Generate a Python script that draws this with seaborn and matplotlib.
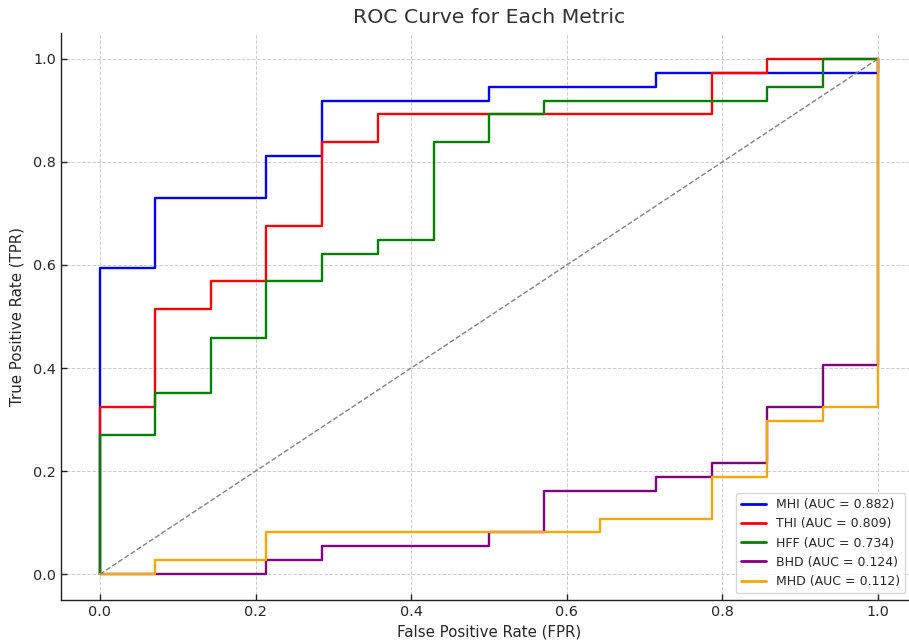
import numpy as np
import pandas as pd
import matplotlib
matplotlib.use("Agg")
import matplotlib.pyplot as plt
import seaborn as sns

metrics = ["MHI", "THI", "HFF", "BHD", "MHD"]
auc_values = [0.882, 0.809, 0.734, 0.124, 0.112]
colors = ["blue", "red", "green", "purple", "orange"]

mhi_fpr = [0, 0, 0.071, 0.071, 0.214, 0.214, 0.286, 0.286, 0.5, 0.5, 0.714, 0.714, 1.0, 1.0]
mhi_tpr = [0, 0.595, 0.595, 0.730, 0.730, 0.811, 0.811, 0.919, 0.919, 0.946, 0.946, 0.973, 0.973, 1.0]

thi_fpr = [0, 0, 0.071, 0.071, 0.143, 0.143, 0.214, 0.214, 0.286, 0.286, 0.357, 0.357, 0.786, 0.786, 0.857, 0.857, 1.0]
thi_tpr = [0, 0.324, 0.324, 0.514, 0.514, 0.568, 0.568, 0.676, 0.676, 0.838, 0.838, 0.892, 0.892, 0.973, 0.973, 1.0, 1.0]

hff_fpr = [0, 0, 0.071, 0.071, 0.143, 0.143, 0.214, 0.214, 0.286, 0.286, 0.357, 0.357, 0.429, 0.429, 0.5, 0.5, 0.571, 0.571, 0.857, 0.857, 0.929, 0.929, 1.0]
hff_tpr = [0, 0.270, 0.270, 0.351, 0.351, 0.459, 0.459, 0.568, 0.568, 0.622, 0.622, 0.649, 0.649, 0.838, 0.838, 0.892, 0.892, 0.919, 0.919, 0.946, 0.946, 1.0, 1.0]

bhd_fpr = [0, 0.214, 0.214, 0.286, 0.286, 0.5, 0.5, 0.571, 0.571, 0.714, 0.714, 0.786, 0.786, 0.857, 0.857, 0.929, 0.929, 1.0, 1.0]
bhd_tpr = [0, 0, 0.027, 0.027, 0.054, 0.054, 0.081, 0.081, 0.162, 0.162, 0.189, 0.189, 0.216, 0.216, 0.324, 0.324, 0.405, 0.405, 1.0]

mhd_fpr = [0, 0.071, 0.071, 0.214, 0.214, 0.643, 0.643, 0.786, 0.786, 0.857, 0.857, 0.929, 0.929, 1.0, 1.0]
mhd_tpr = [0, 0, 0.027, 0.027, 0.081, 0.081, 0.108, 0.108, 0.189, 0.189, 0.297, 0.297, 0.324, 0.324, 1.0]

fprs = [mhi_fpr, thi_fpr, hff_fpr, bhd_fpr, mhd_fpr]
tprs = [mhi_tpr, thi_tpr, hff_tpr, bhd_tpr, mhd_tpr]

rows = []
labels = []
for m, a, f, t in zip(metrics, auc_values, fprs, tprs):
    lab = f"{m} (AUC = {a:.3f})"
    labels.append(lab)
    for i, (x, y) in enumerate(zip(f, t)):
        rows.append({"curve": lab, "order": i, "FPR": x, "TPR": y})
df = pd.DataFrame(rows)

sns.set_style("white")
plt.rcParams["font.family"] = ["DejaVu Sans"]

fig = plt.figure(figsize=(9.09, 6.40), dpi=100)
ax = fig.add_axes([61 / 909, 40 / 640, 856 / 909, 567 / 640])

sns.lineplot(data=df, x="FPR", y="TPR", hue="curve", hue_order=labels,
             palette=dict(zip(labels, colors)), sort=False, estimator=None,
             linewidth=1.7, ax=ax)

ax.plot([0, 1], [0, 1], linestyle="--", color="gray", linewidth=1.0)

ax.set_xlim(-0.05, 1.05)
ax.set_ylim(-0.05, 1.05)
ax.set_xticks([0.0, 0.2, 0.4, 0.6, 0.8, 1.0])
ax.set_yticks([0.0, 0.2, 0.4, 0.6, 0.8, 1.0])
ax.grid(True, linestyle="--", color="#cccccc", linewidth=0.7)
ax.set_axisbelow(True)

for s in ["top", "right"]:
    ax.spines[s].set_visible(False)
for s in ["left", "bottom"]:
    ax.spines[s].set_color("#222222")
    ax.spines[s].set_linewidth(1.0)

ax.tick_params(direction="in", length=4, width=1, colors="#222222",
               labelsize=10.4, labelcolor="#262626", left=True, bottom=True)

ax.set_xlabel("False Positive Rate (FPR)", fontsize=10.8, color="#262626", labelpad=4)
ax.set_ylabel("True Positive Rate (TPR)", fontsize=10.8, color="#262626", labelpad=6)
ax.set_title("ROC Curve for Each Metric", fontsize=14.7, color="#333333", pad=7)

leg = ax.legend(loc="lower right", bbox_to_anchor=(905 / 909, 47 / 640),
                bbox_transform=fig.transFigure, borderaxespad=0, fontsize=9,
                frameon=True, framealpha=0.8, edgecolor="#cccccc", fancybox=True)
for line in leg.get_lines():
    line.set_linewidth(2.0)

fig.savefig("out.png", dpi=100)
